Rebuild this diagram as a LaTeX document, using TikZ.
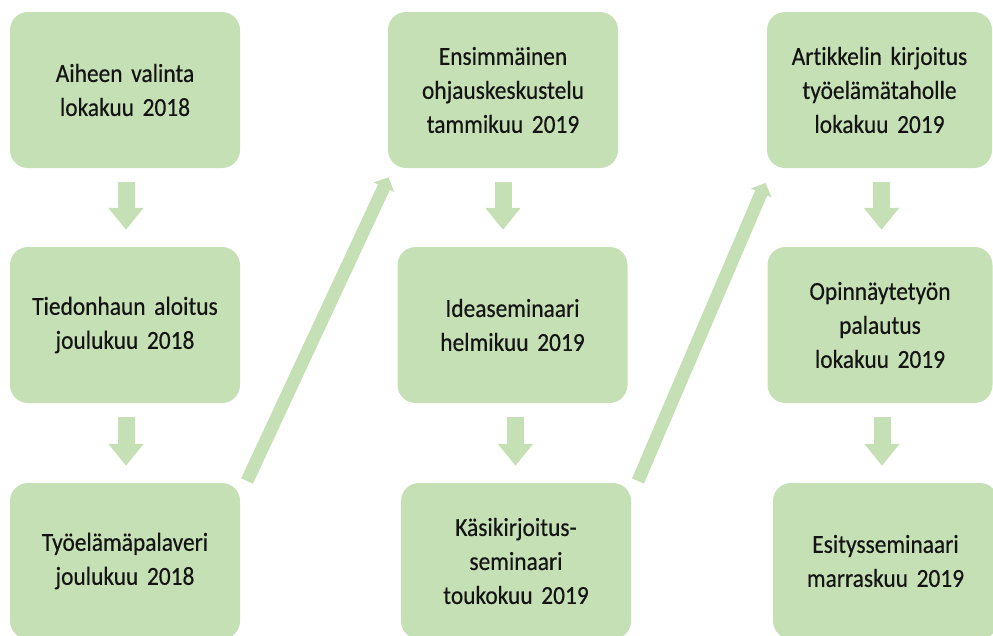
\documentclass[tikz,border=0pt]{standalone}
\usepackage{fontspec}
\setmainfont{Carlito}[FakeStretch=0.9, RawFeature=-liga, WordSpace={0.65,0,0}, FakeBold=0.4]
\usetikzlibrary{arrows.meta}
\definecolor{boxgreen}{HTML}{C5E0B4}
\definecolor{txt}{HTML}{141414}
\tikzset{
  stepbox/.style={fill=boxgreen, draw=none, rounded corners=18pt,
    minimum width=230pt, minimum height=156pt, text width=220pt,
    align=center, inner sep=0pt, text=txt,
    font=\fontsize{26}{34}\selectfont},
  narrowbox/.style={stepbox, minimum width=225pt, text width=215pt},
  downarr/.style={draw=boxgreen, line width=17pt,
    -{Triangle[width=34pt,length=22pt]}, shorten <=14pt, shorten >=17pt},
  diagarr/.style={draw=boxgreen, line width=13pt,
    -{Triangle[width=22pt,length=11pt]}}
}
\begin{document}
\begin{tikzpicture}[x=1pt,y=-1pt]
\useasboundingbox (0,0) rectangle (993,635);
% column 1
\node[stepbox] (a1) at (125,90) {Aiheen valinta\\lokakuu 2018};
\node[stepbox] (a2) at (125,325) {Tiedonhaun aloitus\\joulukuu 2018};
\node[stepbox] (a3) at (125,561) {Työelämäpalaveri\\joulukuu 2018};
% column 2
\node[stepbox] (b1) at (503,90) {Ensimmäinen\\ohjauskeskustelu\\tammikuu 2019};
\node[stepbox] (b2) at (512.5,325) {Ideaseminaari\\helmikuu 2019};
\node[stepbox] (b3) at (516,561) {Käsikirjoitus-\\seminaari\\toukokuu 2019};
% column 3
\node[narrowbox] (c1) at (879.5,90) {Artikkelin kirjoitus\\työelämätaholle\\lokakuu 2019};
\node[narrowbox] (c2) at (880,325) {Opinnäytetyön\\palautus\\lokakuu 2019};
\node[narrowbox] (c3) at (885.5,561) {Esitysseminaari\\marraskuu 2019};
% vertical arrows
\draw[downarr] ([xshift=1pt]a1.south) -- ([xshift=1pt]a1.south |- a2.north);
\draw[downarr] ([xshift=1pt]a2.south) -- ([xshift=1pt]a2.south |- a3.north);
\draw[downarr] (b1.south) -- (b1.south |- b2.north);
\draw[downarr] ([xshift=3pt]b2.south) -- ([xshift=3pt]b2.south |- b3.north);
\draw[downarr] ([xshift=2pt]c1.south) -- ([xshift=2pt]c1.south |- c2.north);
\draw[downarr] ([xshift=2pt]c2.south) -- ([xshift=2pt]c2.south |- c3.north);
% diagonal arrows
\draw[diagarr, shorten <=2pt, shorten >=10pt] ([xshift=6pt]a3.north east) -- ([xshift=5pt]b1.south west);
\draw[diagarr, shorten <=2pt, shorten >=16pt] ([xshift=6pt]b3.north east) -- ([xshift=5pt]c1.south west);
\end{tikzpicture}
\end{document}
